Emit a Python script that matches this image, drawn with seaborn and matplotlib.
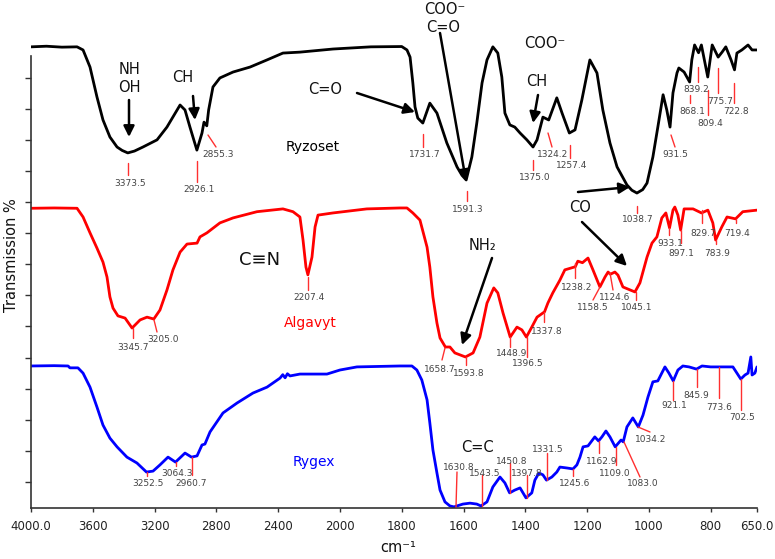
import numpy as np
import pandas as pd
import matplotlib
matplotlib.use("Agg")
import matplotlib.pyplot as plt
from matplotlib.lines import Line2D
import seaborn as sns

# ---------------- data ----------------
ryz_wn = [4000, 3900, 3800, 3702, 3663, 3618, 3573, 3534, 3489, 3443, 3410, 3373.5, 3330, 3275, 3184, 3120,
          3035, 3003, 2971, 2926.1, 2893, 2880, 2862, 2850, 2822, 2777, 2692, 2582, 2472, 2369,
          2259, 2045, 1900, 1800, 1783, 1773, 1764, 1757, 1748, 1731.7, 1709, 1686, 1654, 1621,
          1605, 1591.3, 1573, 1557, 1540, 1524, 1505, 1489, 1476, 1466, 1450, 1434, 1417, 1395, 1375.0,
          1362, 1343, 1324.2, 1298, 1281, 1257.4, 1239, 1217, 1191, 1168, 1149, 1126, 1103, 1071,
          1055, 1038.7, 1020, 1006, 987, 971, 954, 942, 931.5, 922, 909, 903, 886, 868.1, 861, 852, 839.2, 830,
          809.4, 795, 775.7, 763, 751, 734, 722.8, 715, 699, 679, 666, 650]
ryz_t = [149.9, 150.1, 149.8, 149.9, 148.9, 143.4, 133.8, 126.4, 120.9, 117.7, 116.6, 115.8, 116.4, 117.7, 120.0, 124.1,
         131.2, 129.6, 124.1, 116.7, 122.2, 125.7, 124.5, 129.6, 137.0, 139.9, 141.8, 143.4, 145.7, 147.9,
         148.2, 149.2, 149.9, 150.0, 148.9, 146.6, 138.3, 130.6, 127.0, 125.4, 131.8, 128.6, 119.0, 111.3,
         108.6, 107.1, 114.5, 125.4, 138.3, 145.7, 149.9, 147.9, 140.2, 128.6, 124.8, 124.1, 122.2, 120.0, 117.7,
         120.0, 127.3, 126.4, 133.5, 128.6, 122.2, 123.2, 132.8, 145.7, 141.5, 129.6, 119.0, 111.3, 105.5,
         103.8, 102.9, 104.0, 106.1, 114.5, 124.1, 134.5, 129.6, 124.1, 135.1, 141.5, 143.1, 141.8, 138.6, 145.7, 150.5,
         148.0, 150.5, 140.2, 150.5, 146.6, 148.2, 149.9, 145.7, 142.5, 147.9, 148.9, 150.5, 148.9, 148.9]

alg_wn = [4000, 3850, 3702, 3663, 3618, 3573, 3534, 3508, 3489, 3469, 3437, 3391, 3345.7, 3294, 3249,
          3205.0, 3165, 3120, 3081, 3035, 2990, 2925, 2906, 2861, 2777, 2692, 2537, 2369, 2304, 2259,
          2239, 2220, 2207.4, 2181, 2161, 2142, 2045, 1913, 1806, 1783, 1764, 1741, 1718, 1709, 1699,
          1686, 1676, 1658.7, 1644, 1628, 1593.8, 1569, 1547, 1524, 1502, 1489, 1472, 1448.9, 1427,
          1411, 1396.5, 1379, 1362, 1337.8, 1327, 1311, 1288, 1272, 1238.2, 1230, 1215, 1197, 1181,
          1158.5, 1142, 1132, 1124.6, 1110, 1100, 1084, 1045.1, 1029, 1006, 990, 974, 958, 945, 933.1,
          922, 916, 906, 897.1, 886, 857, 829.7, 809, 793, 783.9, 764, 747, 719.4, 696, 650]
alg_t = [98.0, 98.1, 98.0, 95.2, 90.1, 85.2, 80.7, 75.9, 69.5, 65.9, 63.4, 62.7, 59.5, 62.1, 63.0,
         62.4, 65.3, 71.7, 78.2, 83.9, 86.5, 86.8, 88.8, 90.1, 93.3, 94.9, 96.9, 97.8, 96.9, 95.2,
         87.8, 79.1, 76.6, 82.3, 92.0, 95.8, 96.5, 97.8, 98.1, 98.1, 96.5, 94.2, 85.5, 79.1, 69.5,
         61.1, 56.3, 53.4, 53.4, 51.5, 50.2, 51.5, 56.6, 67.5, 72.4, 70.8, 64.3, 56.6, 59.8,
         58.9, 56.6, 59.8, 63.0, 64.7, 67.5, 70.8, 74.9, 78.2, 79.2, 81.0, 80.5, 82.0, 78.2,
         72.7, 75.9, 77.5, 76.8, 77.5, 76.5, 72.7, 71.1, 74.0, 82.3, 86.8, 88.8, 94.9, 96.5, 91.7,
         97.4, 98.4, 95.8, 91.0, 97.8, 97.8, 96.5, 97.4, 93.3, 87.8, 92.0, 95.2, 94.6, 96.9, 97.4]

ryg_wn = [4000, 3850, 3760, 3748, 3696, 3663, 3618, 3573, 3534, 3489, 3443, 3379, 3314, 3252.5, 3210,
          3165, 3113, 3064.3, 3003, 2960.7, 2925, 2893, 2874, 2841, 2757, 2666, 2563, 2472, 2388, 2370,
          2355, 2340, 2323, 2259, 2084, 2000, 1945, 1806, 1767, 1751, 1735, 1718, 1709, 1699, 1686,
          1676, 1660, 1644, 1630.8, 1602, 1579, 1557, 1543.5, 1524, 1505, 1482, 1466, 1450.8, 1434,
          1417, 1397.8, 1379, 1369, 1356, 1343, 1331.5, 1314, 1298, 1288, 1265, 1245.6, 1233, 1223,
          1213, 1197, 1175, 1162.9, 1152, 1139, 1126, 1109.0, 1090, 1083.0, 1071, 1052, 1034.2, 1019,
          1003, 987, 971, 948, 935, 921.1, 906, 890, 870, 845.9, 828, 800, 773.6, 750, 728, 702.5,
          689, 679, 670, 666, 657, 650]
ryg_t = [47.3, 47.4, 47.3, 46.7, 46.7, 45.0, 40.5, 34.1, 28.3, 24.1, 21.3, 18.0, 16.1, 13.2, 13.5,
         15.5, 18.0, 16.4, 19.3, 18.0, 18.4, 21.9, 22.2, 26.1, 32.2, 35.4, 38.6, 40.5, 43.4, 44.5,
         43.5, 44.8, 44.1, 44.7, 44.7, 46.0, 47.0, 47.3, 47.3, 46.0, 42.8, 36.4, 29.0, 20.3, 12.9,
         7.4, 3.6, 2.3, 2.0, 2.9, 3.2, 2.9, 2.3, 3.6, 8.4, 11.6, 9.7, 6.5, 7.4,
         8.1, 4.9, 6.5, 10.6, 12.9, 12.3, 10.6, 11.6, 13.2, 14.8, 14.5, 14.2, 15.5, 18.0,
         21.3, 21.6, 24.5, 23.2, 24.5, 26.4, 24.5, 21.3, 23.5, 22.9, 27.7, 30.6, 27.7, 31.5,
         37.3, 42.2, 42.5, 47.0, 45.0, 42.5, 46.0, 47.3, 47.0, 46.3, 47.3, 47.0, 47.0, 47.0, 47.0, 43.1,
         44.4, 45.0, 50.2, 44.4, 45.0, 47.0]

series_names = ["Ryzoset", "Algavyt", "Rygex"]
series_colors = {"Ryzoset": "#000000", "Algavyt": "#ff0000", "Rygex": "#0000ff"}
x_ticks = [4000, 3600, 3200, 2800, 2400, 2000, 1800, 1600, 1400, 1200, 1000, 800, 650]
x_tick_labels = ["4000.0", "3600", "3200", "2800", "2400", "2000", "1800", "1600", "1400",
                 "1200", "1000", "800", "650.0"]
y_ticks = [10, 20, 30, 40, 50, 60, 70, 80, 90, 100, 110, 120, 130, 140]

# peak labels: (text, line start px, line end px, text centre px)
ryz_peaks = [("3373.5", (128, 163), (128, 175), (130, 184)),
             ("2926.1", (197, 161), (197, 182), (199, 189)),
             ("2855.3", (208, 135), (216, 147), (218, 155)),
             ("1731.7", (423, 134), (423, 147), (425, 155)),
             ("1591.3", (467, 191), (467, 201), (468, 210)),
             ("1375.0", (533, 160), (533, 170), (535, 177)),
             ("1324.2", (548, 133), (552, 147), (553, 155)),
             ("1257.4", (570, 145), (570, 158), (572, 166)),
             ("1038.7", (637, 206), (637, 213), (638, 220)),
             ("931.5", (671, 135), (675, 147), (675, 155)),
             ("868.1", (690, 95), (690, 103), (692, 111)),
             ("839.2", (698, 67), (698, 82), (696, 90)),
             ("809.4", (708, 90), (708, 115), (710, 123)),
             ("775.7", (718, 68), (718, 93), (720, 101)),
             ("722.8", (734, 83), (734, 103), (736, 111))]
alg_peaks = [("3345.7", (133, 328), (133, 338), (133, 347)),
             ("3205.0", (154, 320), (157, 332), (163, 339)),
             ("2207.4", (308, 277), (308, 290), (309, 297)),
             ("1658.7", (445, 348), (442, 360), (440, 370)),
             ("1593.8", (466, 357), (466, 365), (469, 373)),
             ("1448.9", (510, 337), (510, 347), (512, 353)),
             ("1396.5", (527, 337), (527, 357), (528, 363)),
             ("1337.8", (544, 312), (544, 322), (547, 331)),
             ("1238.2", (575, 263), (575, 278), (577, 287)),
             ("1158.5", (600, 287), (593, 300), (593, 308)),
             ("1124.6", (610, 273), (613, 290), (615, 298)),
             ("1045.1", (636, 292), (636, 300), (637, 308)),
             ("933.1", (669, 228), (669, 235), (670, 243)),
             ("897.1", (681, 230), (681, 243), (681, 253)),
             ("829.7", (702, 210), (702, 223), (703, 233)),
             ("783.9", (716, 240), (716, 244), (717, 253)),
             ("719.4", (736, 219), (736, 223), (737, 233))]
ryg_peaks = [("3252.5", (147, 472), (147, 476), (148, 484)),
             ("3064.3", (176, 462), (176, 466), (177, 473)),
             ("2960.7", (192, 457), (192, 475), (191, 484)),
             ("1630.8", (456, 507), (457, 472), (459, 468)),
             ("1543.5", (482, 506), (482, 475), (485, 473)),
             ("1450.8", (510, 493), (510, 463), (512, 461)),
             ("1397.8", (527, 498), (527, 475), (527, 473)),
             ("1331.5", (547, 480), (547, 453), (548, 450)),
             ("1245.6", (573, 469), (573, 476), (575, 484)),
             ("1162.9", (599, 441), (599, 453), (602, 461)),
             ("1109.0", (616, 447), (616, 465), (615, 473)),
             ("1083.0", (624, 442), (640, 477), (643, 484)),
             ("1034.2", (638, 427), (650, 432), (651, 440)),
             ("921.1", (673, 381), (673, 400), (674, 406)),
             ("845.9", (697, 369), (697, 387), (696, 395)),
             ("773.6", (719, 367), (719, 398), (719, 407)),
             ("702.5", (741, 379), (741, 410), (742, 417))]

# group labels: (text, centre px, size, colour)
group_texts = [("NH", (129, 70), 10.5, "#111111"), ("OH", (129, 88), 10.5, "#111111"),
               ("CH", (183, 78), 10.5, "#111111"), ("C=O", (325, 90), 10.5, "#111111"),
               ("COO\u207b", (445, 10), 10.5, "#111111"), ("C=O", (443, 28), 10.5, "#111111"),
               ("COO\u207b", (545, 43), 10.5, "#111111"), ("CH", (537, 82), 10.5, "#111111"),
               ("CO", (580, 208), 10.5, "#111111"), ("C\u2261N", (260, 260), 13, "#111111"),
               ("NH\u2082", (483, 245), 10.5, "#111111"), ("C=C", (477, 447), 10.5, "#111111"),
               ("Ryzoset", (313, 147), 10, "#000000"), ("Algavyt", (310, 323), 10, "#ff0000"),
               ("Rygex", (314, 462), 10, "#0000ff")]
arrows = [((129, 100), (129, 137)), ((193, 96), (195, 120)), ((357, 93), (415, 112)),
          ((440, 33), (466, 181)), ((538, 95), (533, 123)), ((578, 192), (630, 187)),
          ((582, 222), (627, 266)), ((492, 258), (462, 345))]

# ---------------- figure ----------------
W, H = 775, 559
sns.set_theme(style="white")
plt.rcParams["font.family"] = ["DejaVu Sans"]
fig = plt.figure(figsize=(W / 100, H / 100), dpi=100)
ax = fig.add_axes([31 / W, 1 - 508 / H, 726 / W, 468 / H])


def fwd(x):
    x = np.asarray(x, dtype=float)
    return np.where(x > 2000, 2000 + (x - 2000) / 2, x)


def inv(t):
    t = np.asarray(t, dtype=float)
    return np.where(t > 2000, 2000 + (t - 2000) * 2, t)


ax.set_xscale("function", functions=(fwd, inv))

frames = []
for name, wn, tv in zip(series_names, [ryz_wn, alg_wn, ryg_wn], [ryz_t, alg_t, ryg_t]):
    frames.append(pd.DataFrame({"wn": wn, "T": tv, "sample": name}))
df = pd.concat(frames, ignore_index=True)

sns.lineplot(data=df, x="wn", y="T", hue="sample", palette=series_colors, units="sample",
             estimator=None, sort=False, legend=False, lw=2.0, ax=ax)
for ln in ax.get_lines():
    ln.set_solid_joinstyle("round")

ax.set_xlim(4000, 650)
ax.set_ylim(1.64, 152.1)
ax.set_xticks(x_ticks)
ax.set_xticklabels(x_tick_labels, fontsize=8.5, color="#222222")
ax.minorticks_off()
ax.set_yticks(y_ticks)
ax.set_yticklabels([])
ax.tick_params(axis="y", direction="out", length=4, width=1, color="#333333", left=True)
ax.tick_params(axis="x", direction="out", length=3, width=1, color="#333333", bottom=True, pad=6)
for s in ["top", "right"]:
    ax.spines[s].set_visible(False)
for s in ["left", "bottom"]:
    ax.spines[s].set_color("#333333")
    ax.spines[s].set_linewidth(1.2)
ax.spines["left"].set_bounds(1.64, 147)
ax.set_xlabel("")
ax.set_ylabel("")
ax.grid(False)


def fp(p):
    return (p[0] / W, 1 - p[1] / H)


fig.text(*fp((12, 255)), "Transmission %", rotation=90, ha="center", va="center",
         fontsize=10.5, color="#111111")
fig.text(*fp((398, 548)), "cm\u207b\u00b9", ha="center", va="center", fontsize=10.5, color="#111111")

for plist in [ryz_peaks, alg_peaks, ryg_peaks]:
    for txt, a, b, c in plist:
        pa, pb = fp(a), fp(b)
        fig.add_artist(Line2D([pa[0], pb[0]], [pa[1], pb[1]], color="#ff3030", lw=1.0,
                              transform=fig.transFigure))
        fig.text(*fp(c), txt, ha="center", va="center", fontsize=6.5, color="#444444")

for txt, c, size, col in group_texts:
    fig.text(*fp(c), txt, ha="center", va="center", fontsize=size, color=col)

for start, end in arrows:
    ax.annotate("", xy=fp(end), xytext=fp(start), xycoords="figure fraction",
                textcoords="figure fraction",
                arrowprops=dict(arrowstyle="-|>", color="black", lw=1.8, mutation_scale=16,
                                shrinkA=0, shrinkB=0))

fig.savefig("out.png", dpi=100)
